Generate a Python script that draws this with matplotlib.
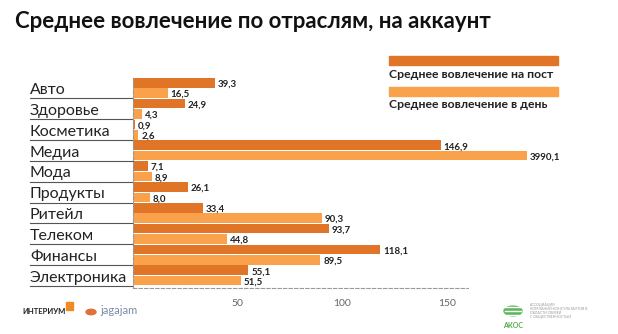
import matplotlib
matplotlib.use('Agg')
from matplotlib import pyplot as plt
from matplotlib.patches import Rectangle, Circle
from matplotlib.lines import Line2D

plt.rcParams['font.family'] = ['Lato', 'DejaVu Sans']

categories = ['Авто', 'Здоровье', 'Косметика', 'Медиа', 'Мода',
              'Продукты', 'Ритейл', 'Телеком', 'Финансы', 'Электроника']
per_post = [39.3, 24.9, 0.9, 146.9, 7.1, 26.1, 33.4, 93.7, 118.1, 55.1]
per_day = [16.5, 4.3, 2.6, 3990.1, 8.9, 8.0, 90.3, 44.8, 89.5, 51.5]
series_names = ['Среднее вовлечение на пост', 'Среднее вовлечение в день']
x_ticks = [50, 100, 150]

title = 'Среднее вовлечение по отраслям, на аккаунт'

DARK = '#E07427'
LIGHT = '#F9A14B'
CAP = 188  # longest bar runs past the axis, drawn capped


def fmt(v):
    return '{:.1f}'.format(v).replace('.', ',')


fig = plt.figure(figsize=(6.18, 3.34), dpi=100)
ax = fig.add_axes([133 / 618, 1 - 288 / 334, 335 / 618, 211 / 334])

values = []
colors = []
for p, d in zip(per_post, per_day):
    values += [p, d]
    colors += [DARK, LIGHT]

rows = list(range(len(values)))
shown = [min(v, CAP) for v in values]
ax.barh(rows, shown, height=0.92, color=colors, clip_on=False, zorder=2)
for r, v, s in zip(rows, values, shown):
    ax.annotate(fmt(v), (s, r), xytext=(2, -1), textcoords='offset points',
                va='center', ha='left', fontsize=7, fontweight='bold',
                color='#222222', annotation_clip=False)

ax.set_xlim(0, 160)
ax.set_ylim(len(values) - 0.3, -0.55)
ax.set_xticks(x_ticks)
ax.set_xticklabels([str(t) for t in x_ticks], color='#666666', fontsize=7.5)
ax.set_yticks([])
ax.tick_params(axis='x', length=0, pad=8)
for s in ['top', 'right']:
    ax.spines[s].set_visible(False)
for s in ['left', 'bottom']:
    ax.spines[s].set_linestyle((0, (3, 2)))
    ax.spines[s].set_color('#999999')
    ax.spines[s].set_linewidth(0.8)

# category labels with underlines on the left
trans = ax.get_yaxis_transform()
x0 = (30 - 133) / 335
for i, name in enumerate(categories):
    yb = 2 * i + 1.5
    ax.text(x0, yb - 0.12, name, transform=trans, ha='left', va='bottom',
            fontsize=11.5, color='#222222', clip_on=False)
    ax.add_line(Line2D([x0, 0], [yb, yb], transform=trans, color='#555555',
                       linewidth=0.8, clip_on=False))

fig.text(15 / 618, 1 - 22 / 334, title, ha='left', va='center',
         fontsize=16, fontweight='bold', color='#111111')

# legend at top right
for k, (name, col) in enumerate(zip(series_names, [DARK, LIGHT])):
    top = 56 + 31 * k
    fig.patches.append(Rectangle((389 / 618, 1 - (top + 9) / 334), 169 / 618, 9 / 334,
                                 transform=fig.transFigure, color=col))
    fig.text(389 / 618, 1 - (top + 18) / 334, name, ha='left', va='center',
             fontsize=8.8, fontweight='bold', color='#222222')

# logos at the bottom
fig.text(22 / 618, 1 - 311 / 334, 'ИНТЕРИУМ', ha='left', va='center',
         fontsize=5.5, fontweight='bold', color='#222222')
fig.patches.append(Rectangle((66 / 618, 1 - 310 / 334), 7 / 618, 8 / 334,
                             transform=fig.transFigure, color='#F08A24'))
fig.patches.append(Circle((91 / 618, 1 - 312 / 334), 5 / 618,
                          transform=fig.transFigure, color='#E0703A'))
fig.text(100 / 618, 1 - 310 / 334, 'jagajam', ha='left', va='center',
         fontsize=8, color='#7A8AA8')
fig.patches.append(Circle((513 / 618, 1 - 311 / 334), 9 / 618,
                          transform=fig.transFigure, color='#5DB85B'))
for dy in [-4, 0, 4]:
    fig.lines.append(Line2D([505 / 618, 521 / 618], [1 - (311 + dy) / 334] * 2,
                            transform=fig.transFigure, color='white', linewidth=1))
fig.text(513 / 618, 1 - 326 / 334, 'АКОС', ha='center', va='center',
         fontsize=5, fontweight='bold', color='#4FA84D')
small = ['АССОЦИАЦИЯ', 'КОМПАНИЙ-КОНСУЛЬТАНТОВ В', 'ОБЛАСТИ СВЯЗЕЙ',
         'С ОБЩЕСТВЕННОСТЬЮ']
for k, line in enumerate(small):
    fig.text(530 / 618, 1 - (305 + 4 * k) / 334, line, ha='left', va='center',
             fontsize=2.5, color='#999999')

fig.savefig('out.png', dpi=100)
